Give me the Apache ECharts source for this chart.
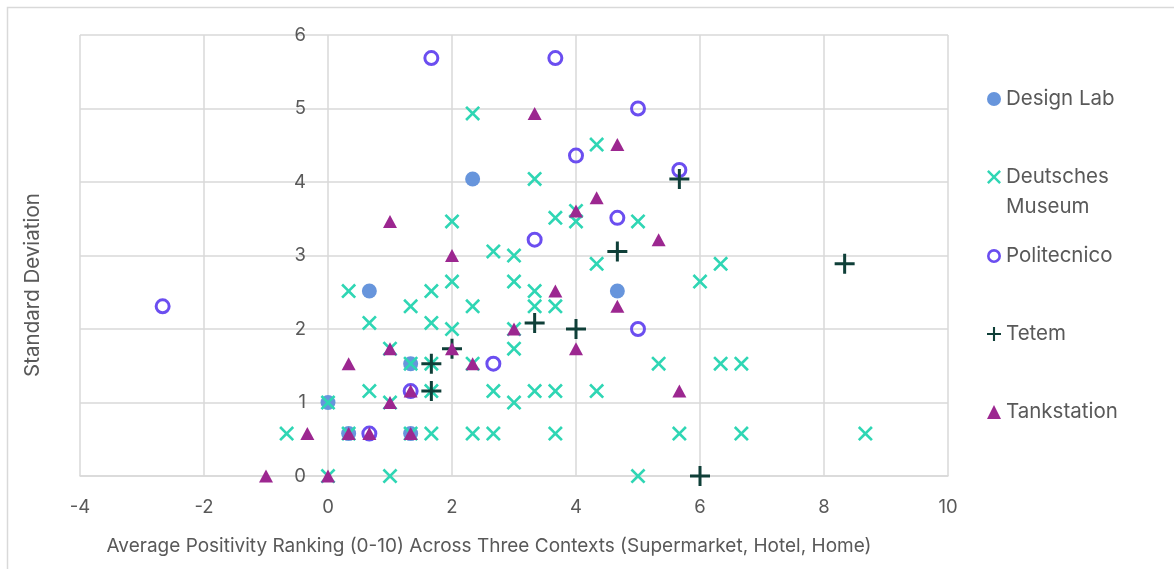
<!DOCTYPE html>
<html>
<head>
<meta charset="utf-8">
<script src="https://cdn.jsdelivr.net/npm/echarts@6/dist/echarts.min.js"></script>
<style>html,body{margin:0;padding:0;background:#fff;}#c{width:1174px;height:569px;}</style>
</head>
<body>
<div id="c"></div>
<script>
var xTicks = [-4, -2, 0, 2, 4, 6, 8, 10];
var yTicks = [0, 1, 2, 3, 4, 5, 6];
var seriesNames = ['Design Lab', 'Deutsches Museum', 'Politecnico', 'Tetem', 'Tankstation'];

var designLab = [
  [2.333, 4.041], [0.667, 2.517], [4.667, 2.517], [1.333, 1.528],
  [0, 1], [0.333, 0.577], [1.333, 0.577]
];
var deutschesMuseum = [
  [2.333, 4.933], [4.333, 4.509], [3.333, 4.041], [3.667, 3.512], [4, 3.606], [4, 3.464],
  [2, 3.464], [5, 3.464], [2.667, 3.055], [3, 3], [4.333, 2.887], [6.333, 2.887],
  [2, 2.646], [3, 2.646], [6, 2.646], [0.333, 2.517], [1.667, 2.517], [3.333, 2.517],
  [1.333, 2.309], [2.333, 2.309], [3.333, 2.309], [3.667, 2.309], [0.667, 2.082],
  [1.667, 2.082], [2, 2], [3, 2], [1, 1.732], [3, 1.732], [1.333, 1.528], [1.667, 1.528],
  [2.333, 1.528], [5.333, 1.528], [6.333, 1.528], [6.667, 1.528], [0.667, 1.155],
  [1.667, 1.155], [2.667, 1.155], [3.333, 1.155], [3.667, 1.155], [4.333, 1.155],
  [0, 1], [1, 1], [3, 1], [-0.667, 0.577], [0.333, 0.577], [1.333, 0.577], [1.667, 0.577],
  [2.333, 0.577], [2.667, 0.577], [3.667, 0.577], [5.667, 0.577], [6.667, 0.577],
  [8.667, 0.577], [0, 0], [1, 0], [5, 0]
];
var politecnico = [
  [1.667, 5.686], [3.667, 5.686], [5, 5], [4, 4.359], [5.667, 4.163], [4.667, 3.512],
  [3.333, 3.215], [-2.667, 2.309], [5, 2], [2.667, 1.528], [1.333, 1.155], [0.667, 0.577]
];
var tetem = [
  [5.667, 4.041], [4.667, 3.055], [8.333, 2.887], [3.333, 2.082], [4, 2], [2, 1.732],
  [1.667, 1.528], [1.667, 1.155], [6, 0]
];
var tankstation = [
  [3.333, 4.933], [4.667, 4.509], [4.333, 3.786], [4, 3.606], [1, 3.464], [5.333, 3.215],
  [2, 3], [3.667, 2.517], [4.667, 2.309], [3, 2], [2, 1.732], [1, 1.732], [4, 1.732],
  [0.333, 1.528], [2.333, 1.528], [5.667, 1.155], [1.333, 1.155], [1, 1], [-0.333, 0.577],
  [0.333, 0.577], [0.667, 0.577], [1.333, 0.577], [-1, 0], [0, 0]
];

var FONT = 'Inter, "Noto Sans", sans-serif';
var TXT = '#595959';
var GRIDC = '#d9d9d9';
var crossPath = 'path://M2,0 L8,6 L14,0 L16,2 L10,8 L16,14 L14,16 L8,10 L2,16 L0,14 L6,8 L0,2 Z';
var plusPath = 'path://M8.5,0 L11.5,0 L11.5,8.5 L20,8.5 L20,11.5 L11.5,11.5 L11.5,20 L8.5,20 L8.5,11.5 L0,11.5 L0,8.5 L8.5,8.5 Z';
var ringPath = 'path://M8,0 A8,8 0 1,1 8,16 A8,8 0 1,1 8,0 Z M8,3 A5,5 0 1,0 8,13 A5,5 0 1,0 8,3 Z';

function legendFor(name, top, formatter) {
  var l = {
    data: [name], orient: 'vertical', left: 987, top: top, padding: 0,
    itemWidth: 14, itemHeight: 14, itemGap: 0, selectedMode: false,
    textStyle: { fontSize: 20.5, color: TXT, fontFamily: FONT, lineHeight: 30 }
  };
  if (formatter) l.formatter = formatter;
  return l;
}

var chart = echarts.init(document.getElementById('c'), null, { renderer: 'canvas' });
chart.setOption({
  backgroundColor: '#fff',
  animation: false,
  grid: { left: 80, right: 226, top: 35, bottom: 93 },
  xAxis: {
    type: 'value', min: xTicks[0], max: xTicks[xTicks.length - 1], interval: 2,
    axisLine: { show: true, onZero: false, lineStyle: { color: GRIDC, width: 1.5 } },
    axisTick: { show: false },
    splitLine: { show: true, lineStyle: { color: GRIDC, width: 1.5 } },
    axisLabel: { color: TXT, fontSize: 18.5, fontFamily: FONT, margin: 22 }
  },
  yAxis: {
    type: 'value', min: yTicks[0], max: yTicks[yTicks.length - 1], interval: 1,
    position: 'left', offset: -248,
    axisLine: { show: false, onZero: false },
    axisTick: { show: false },
    splitLine: { show: true, lineStyle: { color: GRIDC, width: 1.5 } },
    axisLabel: { color: TXT, fontSize: 18.5, fontFamily: FONT, margin: 22 }
  },
  legend: [
    legendFor('Design Lab', 84),
    legendFor('Deutsches Museum', 132, function () { return '\nDeutsches\nMuseum'; }),
    legendFor('Politecnico', 241),
    legendFor('Tetem', 319),
    legendFor('Tankstation', 397)
  ],
  graphic: [
    { type: 'rect', z: -10, silent: true, shape: { x: 7.5, y: 7.5, width: 1200, height: 600 }, style: { fill: 'none', stroke: GRIDC, lineWidth: 1.5 } },
    { type: 'text', silent: true, x: 33, y: 285, rotation: Math.PI / 2, style: { text: 'Standard Deviation', fontSize: 20.5, fontFamily: FONT, fill: TXT, align: 'center', verticalAlign: 'middle' } },
    { type: 'text', silent: true, x: 489, y: 546, style: { text: 'Average Positivity Ranking (0-10) Across Three Contexts (Supermarket, Hotel, Home)', fontSize: 19, fontFamily: FONT, fill: TXT, align: 'center', verticalAlign: 'middle' } }
  ],
  series: [
    { name: seriesNames[0], type: 'scatter', data: designLab, symbol: 'circle', symbolSize: 15, itemStyle: { color: '#6795DC', opacity: 1 } },
    { name: seriesNames[1], type: 'scatter', data: deutschesMuseum, symbol: crossPath, symbolSize: 15, itemStyle: { color: '#2FD6B4', opacity: 1 } },
    { name: seriesNames[2], type: 'scatter', data: politecnico, symbol: ringPath, symbolSize: 16, itemStyle: { color: '#6B4EF0', opacity: 1 } },
    { name: seriesNames[3], type: 'scatter', data: tetem, symbol: plusPath, symbolSize: 20, itemStyle: { color: '#0F3F38', opacity: 1 } },
    { name: seriesNames[4], type: 'scatter', data: tankstation, symbol: 'triangle', symbolSize: [14, 13], itemStyle: { color: '#9C2790', opacity: 1 } }
  ]
});
</script>
</body>
</html>
